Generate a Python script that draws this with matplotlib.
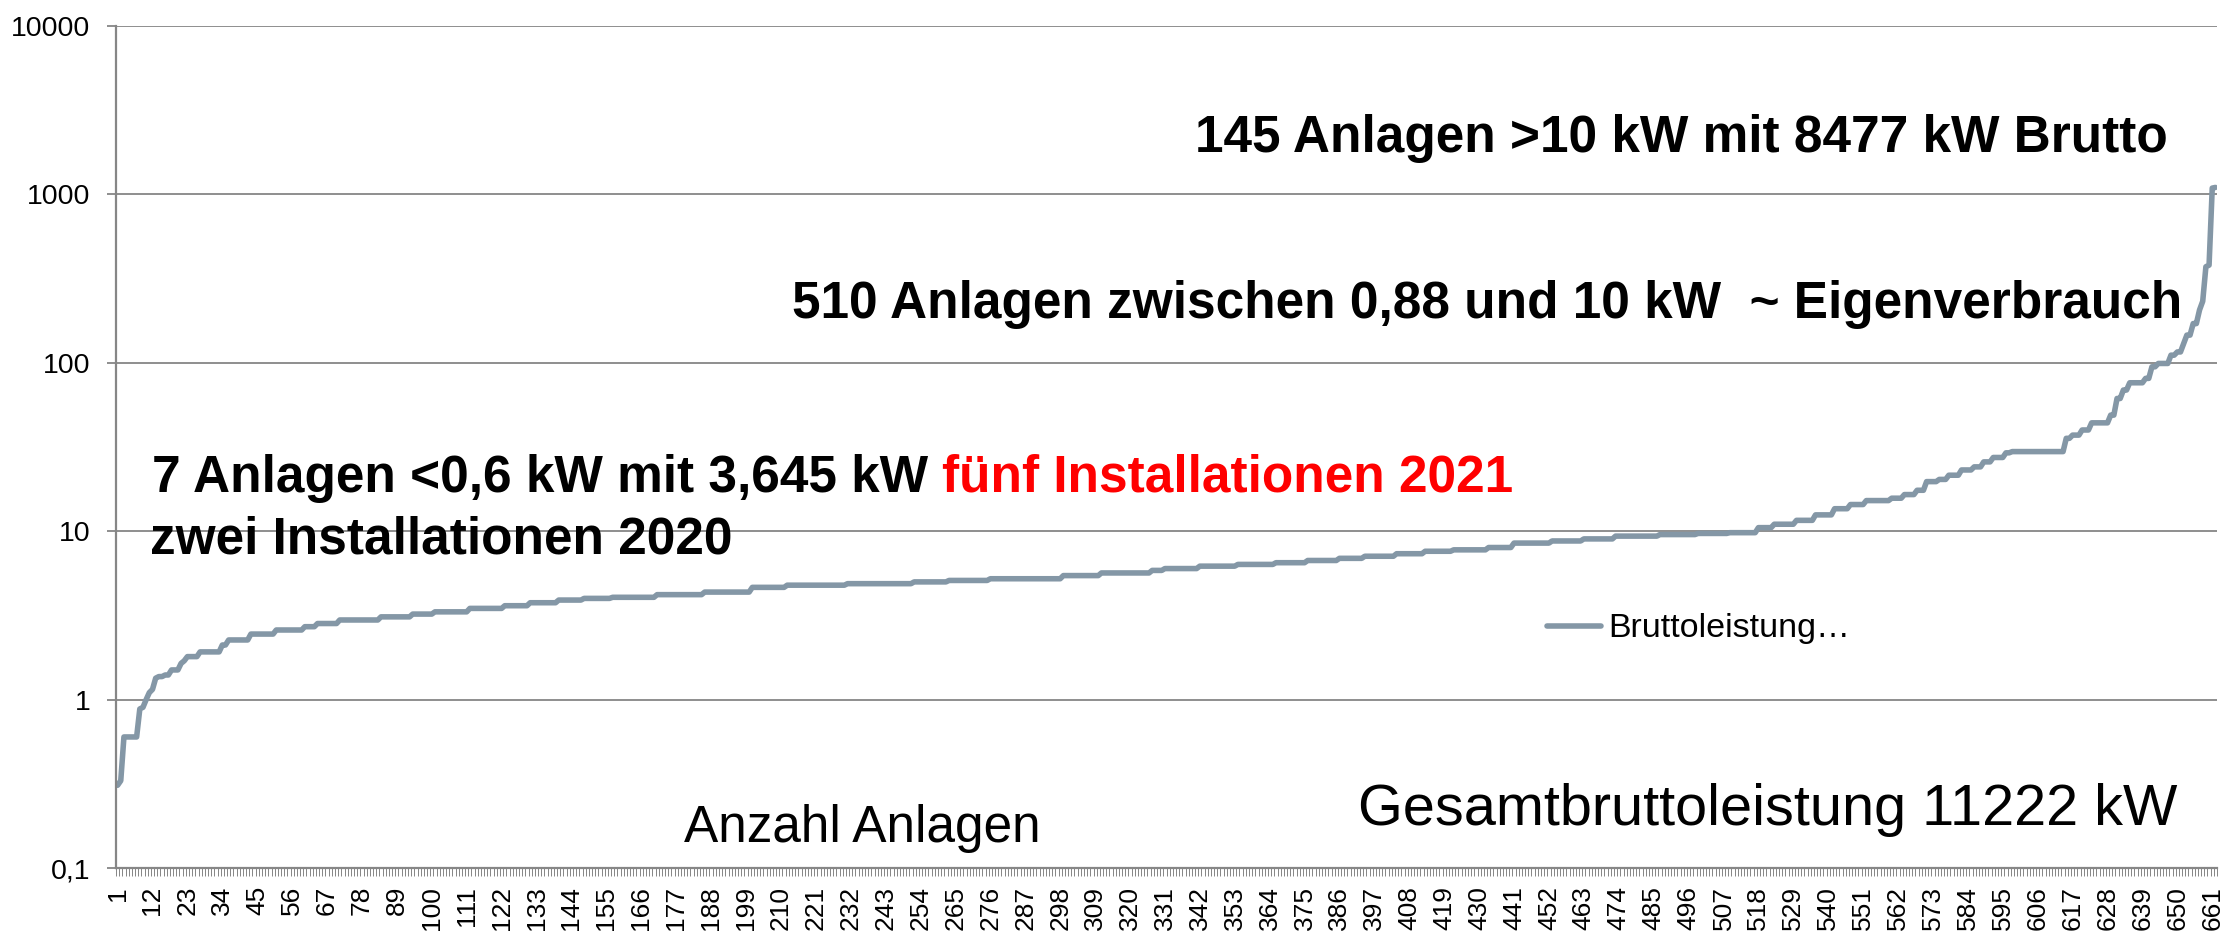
"""
Sorted gross capacity of all PV installations (log scale), one point per plant.
"""

import numpy as np
import matplotlib
matplotlib.use("Agg")
import matplotlib.pyplot as plt
from matplotlib.ticker import FixedLocator, NullLocator

# Sorted gross capacity in kW, stored as runs: value and how many plants share it.
run_values = [
    0.31, 0.33, 0.6, 0.88, 0.9, 1.0, 1.1, 1.15, 1.34, 1.37, 1.4, 1.5, 1.64, 1.7,
    1.8, 1.92, 2.11, 2.26, 2.45, 2.59, 2.71, 2.83, 2.97, 3.1, 3.22, 3.32, 3.48,
    3.61, 3.76, 3.9, 3.99,
    4.05, 4.2, 4.35, 4.64, 4.78, 4.88, 5.0, 5.1, 5.22, 5.45, 5.65, 5.85, 6.0,
    6.2, 6.35, 6.5, 6.7, 6.9, 7.1, 7.35, 7.6, 7.75, 8.0, 8.5, 8.75, 9.0, 9.35,
    9.55, 9.7, 9.8,
    10.5, 11.0, 11.6, 12.5, 13.6, 14.4, 15.2, 15.7, 16.5, 17.5, 19.7, 20.3,
    21.5, 23.1, 24.1, 25.8, 27.4, 29.2, 29.7, 35.6, 37.2, 39.9, 44.0, 48.9,
    61.4, 68.9, 76.1, 80.8, 94.7, 99.1, 111, 116, 130, 146, 171, 206, 232,
    372, 380, 1090, 1100,
]
run_counts = [
    1, 1, 5, 1, 1, 1, 1, 1, 1, 2, 2, 3, 1, 1,
    4, 7, 2, 7, 8, 9, 4, 7, 13, 10, 7, 11, 11,
    8, 9, 8, 9,
    14, 15, 15, 11, 19, 21, 11, 13, 23, 12, 16, 4, 11,
    12, 12, 10, 10, 8, 10, 9, 9, 11, 8, 12, 10, 10, 14,
    12, 10, 9,
    5, 7, 6, 6, 5, 5, 8, 4, 4, 3, 4, 3,
    4, 4, 3, 3, 4, 2, 17, 2, 3, 3, 6, 2,
    2, 2, 5, 2, 2, 4, 2, 2, 1, 2, 2, 1, 1,
    1, 1, 1, 1,
]

y_ticks = [0.1, 1, 10, 100, 1000, 10000]
y_tick_labels = ["0,1", "1", "10", "100", "1000", "10000"]
x_label_step = 11

series_label = "Bruttoleistung\u2026"
note_large = "145 Anlagen >10 kW mit 8477 kW Brutto"
note_mid = "510 Anlagen zwischen 0,88 und 10 kW  ~ Eigenverbrauch"
note_small = "7 Anlagen <0,6 kW mit 3,645 kW "
note_small_red = "f\u00fcnf Installationen 2021"
note_small_2 = "zwei Installationen 2020"
x_title = "Anzahl Anlagen"
total_note = "Gesamtbruttoleistung 11222 kW"

LINE_COLOR = "#8497A6"
GRID_COLOR = "#868686"
W, H = 2223, 933


def fig_pos(x_px, y_px):
    """Pixel position (from top left) to figure fraction."""
    return x_px / W, 1 - y_px / H


def main() -> None:
    plt.rcParams["font.family"] = ["Liberation Sans", "DejaVu Sans"]

    capacity = np.repeat(run_values, run_counts)
    plant_no = np.arange(1, len(capacity) + 1)

    fig = plt.figure(figsize=(W / 100, H / 100), dpi=100)
    ax = fig.add_axes([116 / W, 1 - 868 / H, (2217 - 116) / W, (868 - 26) / H])

    ax.plot(plant_no, capacity, color=LINE_COLOR, linewidth=4.0,
            solid_capstyle="round", solid_joinstyle="round", label=series_label)

    ax.set_yscale("log")
    ax.set_ylim(0.1, 10000)
    ax.set_xlim(0.5, len(capacity) + 0.5)

    ax.yaxis.set_major_locator(FixedLocator(y_ticks))
    ax.set_yticklabels(y_tick_labels)
    ax.yaxis.set_minor_locator(NullLocator())
    ax.grid(axis="y", which="major", color=GRID_COLOR, linewidth=1.3)
    ax.set_axisbelow(True)

    label_pos = plant_no[::x_label_step]
    ax.xaxis.set_major_locator(FixedLocator(label_pos))
    ax.set_xticklabels([str(p) for p in label_pos], rotation=90, fontsize=19)
    ax.xaxis.set_minor_locator(FixedLocator(np.arange(0.5, len(capacity) + 1, 1.0)))

    ax.tick_params(axis="y", which="major", direction="out", length=6.5, width=1.3,
                   color=GRID_COLOR, labelsize=20.5, pad=12)
    ax.tick_params(axis="x", which="major", length=0, pad=13)
    ax.tick_params(axis="x", which="minor", direction="out", length=6, width=0.7,
                   color=GRID_COLOR)

    for side in ("top", "right"):
        ax.spines[side].set_visible(False)
    for side in ("left", "bottom"):
        ax.spines[side].set_color(GRID_COLOR)
        ax.spines[side].set_linewidth(1.6)

    ax.legend(loc="center left", bbox_to_anchor=fig_pos(1547, 629),
              bbox_transform=fig.transFigure, frameon=False, borderpad=0,
              borderaxespad=0, fontsize=24.5, handlelength=1.6, handletextpad=0.2)

    bold = dict(fontsize=37, fontweight="bold", va="baseline")
    fig.text(*fig_pos(1195, 152), note_large, ha="left", **bold)
    fig.text(*fig_pos(2182, 318), note_mid, ha="right", **bold)
    black = fig.text(*fig_pos(152, 492), note_small, ha="left", **bold)
    ax.annotate(note_small_red, xy=(1, 0), xycoords=black, ha="left", va="bottom",
                color="#FF0000", fontsize=37, fontweight="bold")
    fig.text(*fig_pos(150, 553), note_small_2, ha="left", **bold)

    fig.text(*fig_pos(862, 842), x_title, ha="center", va="baseline", fontsize=37)
    fig.text(*fig_pos(2177, 825), total_note, ha="right", va="baseline", fontsize=41.5)

    fig.savefig("out.png", dpi=100)
    plt.close(fig)


if __name__ == "__main__":
    main()
